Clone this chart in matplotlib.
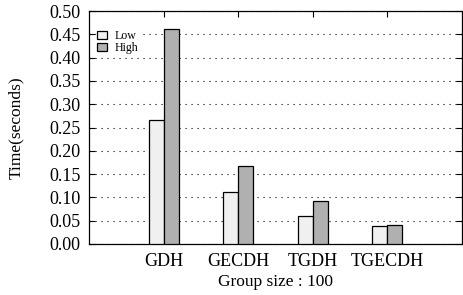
import matplotlib
matplotlib.use("Agg")
import matplotlib.pyplot as plt
import numpy as np

categories = ["GDH", "GECDH", "TGDH", "TGECDH"]
low = [0.266, 0.111, 0.061, 0.039]
high = [0.461, 0.167, 0.092, 0.041]
yticks = [0.00, 0.05, 0.10, 0.15, 0.20, 0.25, 0.30, 0.35, 0.40, 0.45, 0.50]

plt.rcParams['font.family'] = ['Liberation Serif', 'DejaVu Serif']

W, H = 463, 295
fig = plt.figure(figsize=(W / 100, H / 100), dpi=100)
ax = fig.add_axes([89 / W, (H - 244) / H, (462 - 89) / W, (244 - 11) / H])

x = np.arange(1, len(categories) + 1)
bw = 0.2
ax.bar(x - bw / 2, low, bw, color="#f0f0f0", edgecolor="black", linewidth=0.9, label="Low", zorder=3)
ax.bar(x + bw / 2, high, bw, color="#b0b0b0", edgecolor="black", linewidth=0.9, label="High", zorder=3)

ax.set_xlim(0, 5)
ax.set_ylim(0, 0.5)
ax.set_xticks(x)
ax.set_xticklabels(categories, fontsize=13)
ax.set_yticks(yticks)
ax.set_yticklabels([f"{v:.2f}" for v in yticks], fontsize=13)
ax.tick_params(direction="in", top=True, right=True, length=4, width=0.8)
ax.tick_params(axis="y", pad=6)
ax.tick_params(axis="x", pad=6.5)
ax.yaxis.grid(True, linestyle=(0, (1, 4.4)), color="black", linewidth=0.8, zorder=0)
ax.set_axisbelow(True)
for s in ax.spines.values():
    s.set_linewidth(0.9)

ax.set_ylabel("Time(seconds)", fontsize=12.5)
ax.yaxis.set_label_coords((24 - 89) / (462 - 89), 0.5)
ax.set_xlabel("Group size : 100", fontsize=12.5, labelpad=3)

leg = ax.legend(loc="upper left", bbox_to_anchor=(7 / 373, 1 - 18 / 233), fontsize=8.6, frameon=True,
                edgecolor="none", facecolor="white", framealpha=1, handlelength=0.85,
                handleheight=0.7, handletextpad=0.65, borderpad=0.1, labelspacing=0.0,
                borderaxespad=0)

fig.savefig("out.png", dpi=100)
